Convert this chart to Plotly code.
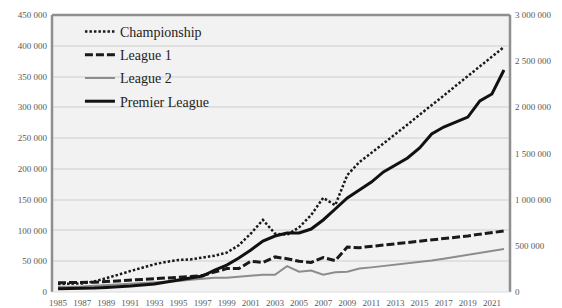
import plotly.graph_objects as go

years = list(range(1985, 2023))

championship = [13000, 13000, 14000, 17000, 22000, 28000, 34000, 40000, 45000, 49000,
                52000, 53000, 56000, 59000, 64000, 76000, 95000, 117000, 95000, 93000,
                105000, 125000, 153000, 141000, 190000, 211000, 226000, 241000, 256000, 272000,
                288000, 303000, 319000, 335000, 351000, 366000, 382000, 398000]

league1 = [15000, 15000, 15000, 16000, 17000, 18000, 19000, 20000, 21000, 22000,
           23000, 25000, 27000, 32000, 38000, 38000, 50000, 48000, 57000, 54000,
           50000, 48000, 56000, 51000, 73000, 72000, 74000, 76000, 78000, 80000,
           82000, 84000, 86000, 89000, 91000, 94000, 97000, 99000]

league2 = [8000, 8000, 9000, 10000, 11000, 12000, 13000, 14000, 15000, 16000,
           18000, 20000, 22000, 23000, 23000, 25000, 27000, 28000, 28000, 42000,
           33000, 35000, 28000, 32000, 33000, 38000, 40000, 42000, 44000, 46000,
           48000, 51000, 54000, 57000, 60000, 63000, 66000, 70000]

premier_league = [35000, 35000, 38000, 43000, 49000, 54000, 65000, 76000, 87000, 108000,
                  130000, 146000, 173000, 238000, 292000, 368000, 455000, 552000, 606000, 639000,
                  639000, 682000, 780000, 899000, 1018000, 1105000, 1191000, 1300000, 1375000, 1451000,
                  1560000, 1711000, 1787000, 1841000, 1895000, 2069000, 2144000, 2404000]

x_tick_years = list(range(1985, 2022, 2))

fig = go.Figure()
fig.add_trace(go.Scatter(x=years, y=championship, name="Championship", mode="lines",
                         legendgroup="a",
                         line=dict(color="#1a1a1a", width=2.5, dash="2.5px,2px")))
fig.add_trace(go.Scatter(x=years, y=league1, name="League 1", mode="lines",
                         legendgroup="b",
                         line=dict(color="#1a1a1a", width=3, dash="8px,3px")))
fig.add_trace(go.Scatter(x=years, y=league2, name="League 2", mode="lines",
                         legendgroup="c",
                         line=dict(color="#8c8c8c", width=2)))
fig.add_trace(go.Scatter(x=years, y=premier_league, name="Premier League", mode="lines",
                         legendgroup="d", yaxis="y2",
                         line=dict(color="#111111", width=3)))

tickfont = dict(family="Liberation Serif", size=9, color="#595959")

fig.update_layout(
    width=562, height=308,
    margin=dict(l=52, r=52, t=15, b=16, autoexpand=False),
    paper_bgcolor="white",
    plot_bgcolor="#f2f2f2",
    separators=". ",
    showlegend=True,
    legend=dict(x=0.061, y=0.948, xanchor="left", yanchor="top", yref="container",
                bgcolor="rgba(0,0,0,0)", tracegroupgap=2,
                font=dict(family="Liberation Serif", size=14, color="#222222")),
    xaxis=dict(range=[1984.5, 2022.5], tickvals=x_tick_years,
               ticktext=[str(y) for y in x_tick_years],
               showgrid=False, zeroline=False, showline=False, automargin=False,
               tickfont=tickfont, ticks="", ticklen=0, ticklabelstandoff=4),
    yaxis=dict(range=[0, 450000], dtick=50000, tickformat=",d",
               showgrid=True, gridcolor="#e0e0e0", gridwidth=1.5, automargin=False,
               zeroline=False, showline=False, tickfont=tickfont, ticks="",
               ticklabelstandoff=4),
    yaxis2=dict(range=[0, 3000000], dtick=500000, tickformat=",d",
                overlaying="y", side="right", showgrid=False, zeroline=False,
                automargin=False,
                showline=False, tickfont=tickfont, ticks="", ticklabelstandoff=4),
)

border = "#8f8f8f"
fig.add_shape(type="line", xref="paper", yref="paper", x0=0, x1=1, y0=1, y1=1,
              line=dict(color=border, width=2.5))
fig.add_shape(type="line", xref="paper", yref="paper", x0=0, x1=0, y0=0, y1=1,
              line=dict(color=border, width=2.5))
fig.add_shape(type="line", xref="paper", yref="paper", x0=1, x1=1, y0=0, y1=1,
              line=dict(color=border, width=2.5))
fig.add_shape(type="line", xref="paper", yref="paper", x0=0, x1=1, y0=0, y1=0,
              line=dict(color="#dddddd", width=1))

fig.write_html(
    "out.html",
    config={"displayModeBar": False},
    post_script="document.body.style.margin='0';document.body.style.padding='0';",
)
